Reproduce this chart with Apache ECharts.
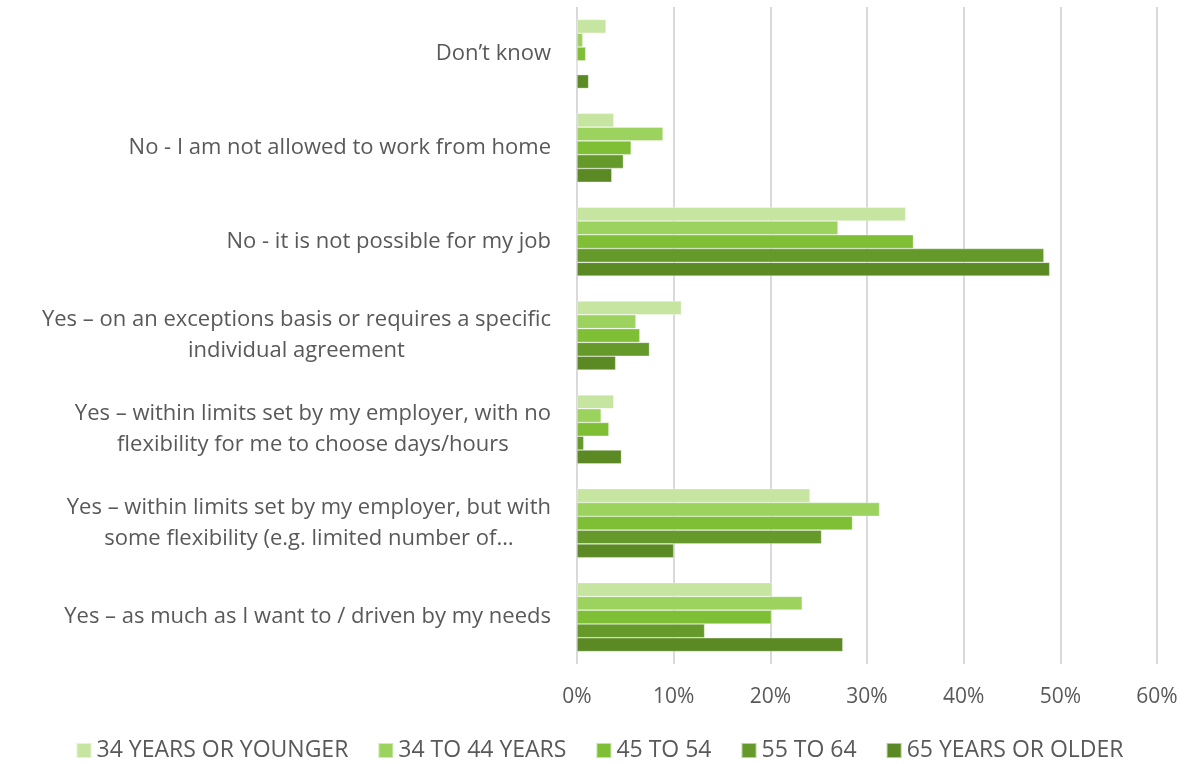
<!DOCTYPE html>
<html>
<head>
<meta charset="utf-8">
<script src="https://cdn.jsdelivr.net/npm/echarts@6/dist/echarts.min.js"></script>
<style>
  html, body { margin: 0; padding: 0; background: #ffffff; }
  #chart { width: 1199px; height: 764px; }
</style>
</head>
<body>
<div id="chart"></div>
<script>
// Answer categories, top to bottom (lines split where the label wraps)
const categories = [
  ["Don’t know"],
  ["No - I am not allowed to work from home"],
  ["No - it is not possible for my job"],
  ["Yes – on an exceptions basis or requires a specific", "individual agreement"],
  ["Yes – within limits set by my employer, with no", "flexibility for me to choose days/hours"],
  ["Yes – within limits set by my employer, but with", "some flexibility (e.g. limited number of…"],
  ["Yes – as much as I want to / driven by my needs"]
];

// Age groups (legend order)
const seriesNames = ["34 YEARS OR YOUNGER", "34 TO 44 YEARS", "45 TO 54", "55 TO 64", "65 YEARS OR OLDER"];

// Share of respondents (%), one value per category above
const age34OrYounger = [3.0, 3.8, 34.0, 10.8, 3.8, 24.1, 20.2];
const age34To44      = [0.6, 8.9, 27.0, 6.1, 2.5, 31.3, 23.3];
const age45To54      = [0.9, 5.6, 34.8, 6.5, 3.3, 28.5, 20.1];
const age55To64      = [0.0, 4.8, 48.3, 7.5, 0.7, 25.3, 13.2];
const age65OrOlder   = [1.2, 3.6, 48.9, 4.0, 4.6, 10.0, 27.5];

const seriesValues = [age34OrYounger, age34To44, age45To54, age55To64, age65OrOlder];
const colors = ["#c5e5a0", "#9cd35f", "#7ebf35", "#659a2b", "#5b8a25"];

const xTicks = { min: 0, max: 60, interval: 10 };

const catKeys = categories.map(lines => lines.join("\n"));
const FONT = "'Open Sans', sans-serif";
const TEXT = "#595959";

const chart = echarts.init(document.getElementById("chart"), null, { renderer: "canvas" });

chart.setOption({
  animation: false,
  backgroundColor: "#ffffff",
  textStyle: { fontFamily: FONT },
  grid: { left: 577, right: 42, top: 7, bottom: 100, containLabel: false },
  legend: {
    top: 734,
    left: "center",
    itemWidth: 15,
    itemHeight: 15,
    itemGap: 29,
    icon: "rect",
    textStyle: { color: TEXT, fontSize: 23, fontFamily: FONT },
    data: seriesNames
  },
  xAxis: {
    type: "value",
    min: xTicks.min,
    max: xTicks.max,
    interval: xTicks.interval,
    axisLine: { show: false },
    axisTick: { show: false },
    splitLine: { show: true, lineStyle: { color: "#d9d9d9", width: 2 } },
    axisLabel: {
      color: TEXT,
      fontSize: 21,
      margin: 23,
      formatter: v => v + "%"
    }
  },
  yAxis: {
    type: "category",
    inverse: true,
    data: catKeys,
    axisLine: { show: false },
    axisTick: { show: false },
    splitLine: { show: false },
    axisLabel: {
      color: TEXT,
      fontSize: 22,
      lineHeight: 31,
      margin: 26,
      formatter: v => v.split("\n").map(l => "{c|" + l + "}").join("\n"),
      rich: {
        c: { align: "center", color: TEXT, fontSize: 22, lineHeight: 31, fontFamily: FONT }
      }
    }
  },
  series: seriesNames.map((name, i) => ({
    name,
    type: "bar",
    data: seriesValues[i],
    barGap: "0%",
    barCategoryGap: "26.5%",
    itemStyle: {
      color: colors[i],
      borderColor: "rgba(255,255,255,0.55)",
      borderWidth: 0.6
    }
  }))
});
</script>
</body>
</html>
